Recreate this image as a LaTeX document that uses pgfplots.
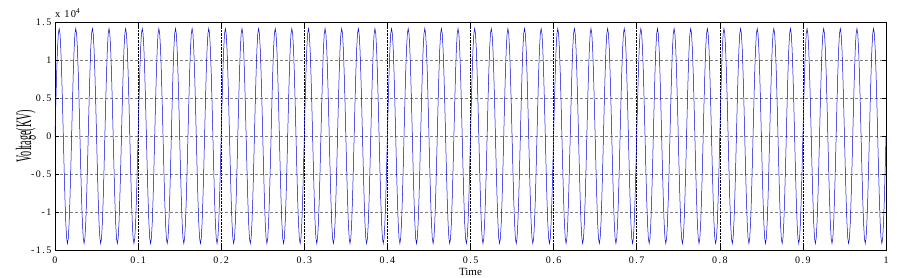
\documentclass[border=0pt]{standalone}
\usepackage{fontspec}
\setmainfont{Liberation Serif}
\usepackage{graphicx}
\usepackage{pgfplots}
\pgfplotsset{compat=1.18}
\begin{document}
\begin{tikzpicture}
\begin{axis}[
  scale only axis, width=831pt, height=228pt,
  xmin=0, xmax=1, ymin=-15000, ymax=15000,
  xtick={0,0.1,0.2,0.3,0.4,0.5,0.6,0.7,0.8,0.9,1},
  ytick={-15000,-10000,-5000,0,5000,10000,15000},
  scaled y ticks=base 10:-4,
  ytick scale label code/.code={x 10\textsuperscript{#1}},
  every y tick scale label/.style={at={(rel axis cs:0,1)}, anchor=south west, inner sep=0pt, yshift=4pt, font=\fontsize{10.5}{12}\selectfont\addfontfeature{LetterSpace=12}},
  /pgf/number format/assume math mode=true,
  ticklabel style={font=\fontsize{10}{12}\selectfont\addfontfeature{LetterSpace=15}},
  xticklabel style={yshift=-3pt},
  tick align=inside, major tick length=4pt,
  tick style={black, line width=0.5pt},
  axis line style={black, line width=0.6pt},
  xmajorgrids, ymajorgrids,
  x grid style={black, densely dotted, line width=0.6pt},
  y grid style={gray, dash pattern=on 3pt off 2pt, line width=0.5pt},
  xlabel={Time},
  xlabel style={at={(axis description cs:0.5,0)}, anchor=north, yshift=-18.5pt, inner sep=0pt, font=\fontsize{11}{12}\selectfont},
  ylabel={\scalebox{0.46}[1]{\fontsize{22}{22}\selectfont Voltage(KV)}},
  ylabel style={at={(axis description cs:-0.0229,0.5)}, anchor=south, inner sep=0pt},
]
\addplot[color=blue!85!black, line width=0.5pt, mark=none] coordinates {
(0.000,0)(0.001,4370)(0.002,8312)(0.003,11441)(0.004,13450)(0.005,14142)(0.006,13450)(0.007,11441)(0.008,8312)(0.009,4370)
(0.010,0)(0.011,-4370)(0.012,-8312)(0.013,-11441)(0.014,-13450)(0.015,-14142)(0.016,-13450)(0.017,-11441)(0.018,-8312)(0.019,-4370)
(0.020,0)(0.021,4370)(0.022,8312)(0.023,11441)(0.024,13450)(0.025,14142)(0.026,13450)(0.027,11441)(0.028,8312)(0.029,4370)
(0.030,0)(0.031,-4370)(0.032,-8312)(0.033,-11441)(0.034,-13450)(0.035,-14142)(0.036,-13450)(0.037,-11441)(0.038,-8312)(0.039,-4370)
(0.040,0)(0.041,4370)(0.042,8312)(0.043,11441)(0.044,13450)(0.045,14142)(0.046,13450)(0.047,11441)(0.048,8312)(0.049,4370)
(0.050,0)(0.051,-4370)(0.052,-8312)(0.053,-11441)(0.054,-13450)(0.055,-14142)(0.056,-13450)(0.057,-11441)(0.058,-8312)(0.059,-4370)
(0.060,0)(0.061,4370)(0.062,8312)(0.063,11441)(0.064,13450)(0.065,14142)(0.066,13450)(0.067,11441)(0.068,8312)(0.069,4370)
(0.070,0)(0.071,-4370)(0.072,-8312)(0.073,-11441)(0.074,-13450)(0.075,-14142)(0.076,-13450)(0.077,-11441)(0.078,-8312)(0.079,-4370)
(0.080,0)(0.081,4370)(0.082,8312)(0.083,11441)(0.084,13450)(0.085,14142)(0.086,13450)(0.087,11441)(0.088,8312)(0.089,4370)
(0.090,0)(0.091,-4370)(0.092,-8312)(0.093,-11441)(0.094,-13450)(0.095,-14142)(0.096,-13450)(0.097,-11441)(0.098,-8312)(0.099,-4370)
(0.100,0)(0.101,4370)(0.102,8312)(0.103,11441)(0.104,13450)(0.105,14142)(0.106,13450)(0.107,11441)(0.108,8312)(0.109,4370)
(0.110,0)(0.111,-4370)(0.112,-8312)(0.113,-11441)(0.114,-13450)(0.115,-14142)(0.116,-13450)(0.117,-11441)(0.118,-8312)(0.119,-4370)
(0.120,0)(0.121,4370)(0.122,8312)(0.123,11441)(0.124,13450)(0.125,14142)(0.126,13450)(0.127,11441)(0.128,8312)(0.129,4370)
(0.130,0)(0.131,-4370)(0.132,-8312)(0.133,-11441)(0.134,-13450)(0.135,-14142)(0.136,-13450)(0.137,-11441)(0.138,-8312)(0.139,-4370)
(0.140,0)(0.141,4370)(0.142,8312)(0.143,11441)(0.144,13450)(0.145,14142)(0.146,13450)(0.147,11441)(0.148,8312)(0.149,4370)
(0.150,0)(0.151,-4370)(0.152,-8312)(0.153,-11441)(0.154,-13450)(0.155,-14142)(0.156,-13450)(0.157,-11441)(0.158,-8312)(0.159,-4370)
(0.160,0)(0.161,4370)(0.162,8312)(0.163,11441)(0.164,13450)(0.165,14142)(0.166,13450)(0.167,11441)(0.168,8312)(0.169,4370)
(0.170,0)(0.171,-4370)(0.172,-8312)(0.173,-11441)(0.174,-13450)(0.175,-14142)(0.176,-13450)(0.177,-11441)(0.178,-8312)(0.179,-4370)
(0.180,0)(0.181,4370)(0.182,8312)(0.183,11441)(0.184,13450)(0.185,14142)(0.186,13450)(0.187,11441)(0.188,8312)(0.189,4370)
(0.190,0)(0.191,-4370)(0.192,-8312)(0.193,-11441)(0.194,-13450)(0.195,-14142)(0.196,-13450)(0.197,-11441)(0.198,-8312)(0.199,-4370)
(0.200,0)(0.201,4370)(0.202,8312)(0.203,11441)(0.204,13450)(0.205,14142)(0.206,13450)(0.207,11441)(0.208,8312)(0.209,4370)
(0.210,0)(0.211,-4370)(0.212,-8312)(0.213,-11441)(0.214,-13450)(0.215,-14142)(0.216,-13450)(0.217,-11441)(0.218,-8312)(0.219,-4370)
(0.220,0)(0.221,4370)(0.222,8312)(0.223,11441)(0.224,13450)(0.225,14142)(0.226,13450)(0.227,11441)(0.228,8312)(0.229,4370)
(0.230,0)(0.231,-4370)(0.232,-8312)(0.233,-11441)(0.234,-13450)(0.235,-14142)(0.236,-13450)(0.237,-11441)(0.238,-8312)(0.239,-4370)
(0.240,0)(0.241,4370)(0.242,8312)(0.243,11441)(0.244,13450)(0.245,14142)(0.246,13450)(0.247,11441)(0.248,8312)(0.249,4370)
(0.250,0)(0.251,-4370)(0.252,-8312)(0.253,-11441)(0.254,-13450)(0.255,-14142)(0.256,-13450)(0.257,-11441)(0.258,-8312)(0.259,-4370)
(0.260,0)(0.261,4370)(0.262,8312)(0.263,11441)(0.264,13450)(0.265,14142)(0.266,13450)(0.267,11441)(0.268,8312)(0.269,4370)
(0.270,0)(0.271,-4370)(0.272,-8312)(0.273,-11441)(0.274,-13450)(0.275,-14142)(0.276,-13450)(0.277,-11441)(0.278,-8312)(0.279,-4370)
(0.280,0)(0.281,4370)(0.282,8312)(0.283,11441)(0.284,13450)(0.285,14142)(0.286,13450)(0.287,11441)(0.288,8312)(0.289,4370)
(0.290,0)(0.291,-4370)(0.292,-8312)(0.293,-11441)(0.294,-13450)(0.295,-14142)(0.296,-13450)(0.297,-11441)(0.298,-8312)(0.299,-4370)
(0.300,0)(0.301,4370)(0.302,8312)(0.303,11441)(0.304,13450)(0.305,14142)(0.306,13450)(0.307,11441)(0.308,8312)(0.309,4370)
(0.310,0)(0.311,-4370)(0.312,-8312)(0.313,-11441)(0.314,-13450)(0.315,-14142)(0.316,-13450)(0.317,-11441)(0.318,-8312)(0.319,-4370)
(0.320,0)(0.321,4370)(0.322,8312)(0.323,11441)(0.324,13450)(0.325,14142)(0.326,13450)(0.327,11441)(0.328,8312)(0.329,4370)
(0.330,0)(0.331,-4370)(0.332,-8312)(0.333,-11441)(0.334,-13450)(0.335,-14142)(0.336,-13450)(0.337,-11441)(0.338,-8312)(0.339,-4370)
(0.340,0)(0.341,4370)(0.342,8312)(0.343,11441)(0.344,13450)(0.345,14142)(0.346,13450)(0.347,11441)(0.348,8312)(0.349,4370)
(0.350,0)(0.351,-4370)(0.352,-8312)(0.353,-11441)(0.354,-13450)(0.355,-14142)(0.356,-13450)(0.357,-11441)(0.358,-8312)(0.359,-4370)
(0.360,0)(0.361,4370)(0.362,8312)(0.363,11441)(0.364,13450)(0.365,14142)(0.366,13450)(0.367,11441)(0.368,8312)(0.369,4370)
(0.370,0)(0.371,-4370)(0.372,-8312)(0.373,-11441)(0.374,-13450)(0.375,-14142)(0.376,-13450)(0.377,-11441)(0.378,-8312)(0.379,-4370)
(0.380,0)(0.381,4370)(0.382,8312)(0.383,11441)(0.384,13450)(0.385,14142)(0.386,13450)(0.387,11441)(0.388,8312)(0.389,4370)
(0.390,0)(0.391,-4370)(0.392,-8312)(0.393,-11441)(0.394,-13450)(0.395,-14142)(0.396,-13450)(0.397,-11441)(0.398,-8312)(0.399,-4370)
(0.400,0)(0.401,4370)(0.402,8312)(0.403,11441)(0.404,13450)(0.405,14142)(0.406,13450)(0.407,11441)(0.408,8312)(0.409,4370)
(0.410,0)(0.411,-4370)(0.412,-8312)(0.413,-11441)(0.414,-13450)(0.415,-14142)(0.416,-13450)(0.417,-11441)(0.418,-8312)(0.419,-4370)
(0.420,0)(0.421,4370)(0.422,8312)(0.423,11441)(0.424,13450)(0.425,14142)(0.426,13450)(0.427,11441)(0.428,8312)(0.429,4370)
(0.430,0)(0.431,-4370)(0.432,-8312)(0.433,-11441)(0.434,-13450)(0.435,-14142)(0.436,-13450)(0.437,-11441)(0.438,-8312)(0.439,-4370)
(0.440,0)(0.441,4370)(0.442,8312)(0.443,11441)(0.444,13450)(0.445,14142)(0.446,13450)(0.447,11441)(0.448,8312)(0.449,4370)
(0.450,0)(0.451,-4370)(0.452,-8312)(0.453,-11441)(0.454,-13450)(0.455,-14142)(0.456,-13450)(0.457,-11441)(0.458,-8312)(0.459,-4370)
(0.460,0)(0.461,4370)(0.462,8312)(0.463,11441)(0.464,13450)(0.465,14142)(0.466,13450)(0.467,11441)(0.468,8312)(0.469,4370)
(0.470,0)(0.471,-4370)(0.472,-8312)(0.473,-11441)(0.474,-13450)(0.475,-14142)(0.476,-13450)(0.477,-11441)(0.478,-8312)(0.479,-4370)
(0.480,0)(0.481,4370)(0.482,8312)(0.483,11441)(0.484,13450)(0.485,14142)(0.486,13450)(0.487,11441)(0.488,8312)(0.489,4370)
(0.490,0)(0.491,-4370)(0.492,-8312)(0.493,-11441)(0.494,-13450)(0.495,-14142)(0.496,-13450)(0.497,-11441)(0.498,-8312)(0.499,-4370)
(0.500,0)(0.501,4370)(0.502,8312)(0.503,11441)(0.504,13450)(0.505,14142)(0.506,13450)(0.507,11441)(0.508,8312)(0.509,4370)
(0.510,0)(0.511,-4370)(0.512,-8312)(0.513,-11441)(0.514,-13450)(0.515,-14142)(0.516,-13450)(0.517,-11441)(0.518,-8312)(0.519,-4370)
(0.520,0)(0.521,4370)(0.522,8312)(0.523,11441)(0.524,13450)(0.525,14142)(0.526,13450)(0.527,11441)(0.528,8312)(0.529,4370)
(0.530,0)(0.531,-4370)(0.532,-8312)(0.533,-11441)(0.534,-13450)(0.535,-14142)(0.536,-13450)(0.537,-11441)(0.538,-8312)(0.539,-4370)
(0.540,0)(0.541,4370)(0.542,8312)(0.543,11441)(0.544,13450)(0.545,14142)(0.546,13450)(0.547,11441)(0.548,8312)(0.549,4370)
(0.550,0)(0.551,-4370)(0.552,-8312)(0.553,-11441)(0.554,-13450)(0.555,-14142)(0.556,-13450)(0.557,-11441)(0.558,-8312)(0.559,-4370)
(0.560,0)(0.561,4370)(0.562,8312)(0.563,11441)(0.564,13450)(0.565,14142)(0.566,13450)(0.567,11441)(0.568,8312)(0.569,4370)
(0.570,0)(0.571,-4370)(0.572,-8312)(0.573,-11441)(0.574,-13450)(0.575,-14142)(0.576,-13450)(0.577,-11441)(0.578,-8312)(0.579,-4370)
(0.580,0)(0.581,4370)(0.582,8312)(0.583,11441)(0.584,13450)(0.585,14142)(0.586,13450)(0.587,11441)(0.588,8312)(0.589,4370)
(0.590,0)(0.591,-4370)(0.592,-8312)(0.593,-11441)(0.594,-13450)(0.595,-14142)(0.596,-13450)(0.597,-11441)(0.598,-8312)(0.599,-4370)
(0.600,0)(0.601,4370)(0.602,8312)(0.603,11441)(0.604,13450)(0.605,14142)(0.606,13450)(0.607,11441)(0.608,8312)(0.609,4370)
(0.610,0)(0.611,-4370)(0.612,-8312)(0.613,-11441)(0.614,-13450)(0.615,-14142)(0.616,-13450)(0.617,-11441)(0.618,-8312)(0.619,-4370)
(0.620,0)(0.621,4370)(0.622,8312)(0.623,11441)(0.624,13450)(0.625,14142)(0.626,13450)(0.627,11441)(0.628,8312)(0.629,4370)
(0.630,0)(0.631,-4370)(0.632,-8312)(0.633,-11441)(0.634,-13450)(0.635,-14142)(0.636,-13450)(0.637,-11441)(0.638,-8312)(0.639,-4370)
(0.640,0)(0.641,4370)(0.642,8312)(0.643,11441)(0.644,13450)(0.645,14142)(0.646,13450)(0.647,11441)(0.648,8312)(0.649,4370)
(0.650,0)(0.651,-4370)(0.652,-8312)(0.653,-11441)(0.654,-13450)(0.655,-14142)(0.656,-13450)(0.657,-11441)(0.658,-8312)(0.659,-4370)
(0.660,0)(0.661,4370)(0.662,8312)(0.663,11441)(0.664,13450)(0.665,14142)(0.666,13450)(0.667,11441)(0.668,8312)(0.669,4370)
(0.670,0)(0.671,-4370)(0.672,-8312)(0.673,-11441)(0.674,-13450)(0.675,-14142)(0.676,-13450)(0.677,-11441)(0.678,-8312)(0.679,-4370)
(0.680,0)(0.681,4370)(0.682,8312)(0.683,11441)(0.684,13450)(0.685,14142)(0.686,13450)(0.687,11441)(0.688,8312)(0.689,4370)
(0.690,0)(0.691,-4370)(0.692,-8312)(0.693,-11441)(0.694,-13450)(0.695,-14142)(0.696,-13450)(0.697,-11441)(0.698,-8312)(0.699,-4370)
(0.700,0)(0.701,4370)(0.702,8312)(0.703,11441)(0.704,13450)(0.705,14142)(0.706,13450)(0.707,11441)(0.708,8312)(0.709,4370)
(0.710,0)(0.711,-4370)(0.712,-8312)(0.713,-11441)(0.714,-13450)(0.715,-14142)(0.716,-13450)(0.717,-11441)(0.718,-8312)(0.719,-4370)
(0.720,0)(0.721,4370)(0.722,8312)(0.723,11441)(0.724,13450)(0.725,14142)(0.726,13450)(0.727,11441)(0.728,8312)(0.729,4370)
(0.730,0)(0.731,-4370)(0.732,-8312)(0.733,-11441)(0.734,-13450)(0.735,-14142)(0.736,-13450)(0.737,-11441)(0.738,-8312)(0.739,-4370)
(0.740,0)(0.741,4370)(0.742,8312)(0.743,11441)(0.744,13450)(0.745,14142)(0.746,13450)(0.747,11441)(0.748,8312)(0.749,4370)
(0.750,0)(0.751,-4370)(0.752,-8312)(0.753,-11441)(0.754,-13450)(0.755,-14142)(0.756,-13450)(0.757,-11441)(0.758,-8312)(0.759,-4370)
(0.760,0)(0.761,4370)(0.762,8312)(0.763,11441)(0.764,13450)(0.765,14142)(0.766,13450)(0.767,11441)(0.768,8312)(0.769,4370)
(0.770,0)(0.771,-4370)(0.772,-8312)(0.773,-11441)(0.774,-13450)(0.775,-14142)(0.776,-13450)(0.777,-11441)(0.778,-8312)(0.779,-4370)
(0.780,0)(0.781,4370)(0.782,8312)(0.783,11441)(0.784,13450)(0.785,14142)(0.786,13450)(0.787,11441)(0.788,8312)(0.789,4370)
(0.790,0)(0.791,-4370)(0.792,-8312)(0.793,-11441)(0.794,-13450)(0.795,-14142)(0.796,-13450)(0.797,-11441)(0.798,-8312)(0.799,-4370)
(0.800,0)(0.801,4370)(0.802,8312)(0.803,11441)(0.804,13450)(0.805,14142)(0.806,13450)(0.807,11441)(0.808,8312)(0.809,4370)
(0.810,0)(0.811,-4370)(0.812,-8312)(0.813,-11441)(0.814,-13450)(0.815,-14142)(0.816,-13450)(0.817,-11441)(0.818,-8312)(0.819,-4370)
(0.820,0)(0.821,4370)(0.822,8312)(0.823,11441)(0.824,13450)(0.825,14142)(0.826,13450)(0.827,11441)(0.828,8312)(0.829,4370)
(0.830,0)(0.831,-4370)(0.832,-8312)(0.833,-11441)(0.834,-13450)(0.835,-14142)(0.836,-13450)(0.837,-11441)(0.838,-8312)(0.839,-4370)
(0.840,0)(0.841,4370)(0.842,8312)(0.843,11441)(0.844,13450)(0.845,14142)(0.846,13450)(0.847,11441)(0.848,8312)(0.849,4370)
(0.850,0)(0.851,-4370)(0.852,-8312)(0.853,-11441)(0.854,-13450)(0.855,-14142)(0.856,-13450)(0.857,-11441)(0.858,-8312)(0.859,-4370)
(0.860,0)(0.861,4370)(0.862,8312)(0.863,11441)(0.864,13450)(0.865,14142)(0.866,13450)(0.867,11441)(0.868,8312)(0.869,4370)
(0.870,0)(0.871,-4370)(0.872,-8312)(0.873,-11441)(0.874,-13450)(0.875,-14142)(0.876,-13450)(0.877,-11441)(0.878,-8312)(0.879,-4370)
(0.880,0)(0.881,4370)(0.882,8312)(0.883,11441)(0.884,13450)(0.885,14142)(0.886,13450)(0.887,11441)(0.888,8312)(0.889,4370)
(0.890,0)(0.891,-4370)(0.892,-8312)(0.893,-11441)(0.894,-13450)(0.895,-14142)(0.896,-13450)(0.897,-11441)(0.898,-8312)(0.899,-4370)
(0.900,0)(0.901,4370)(0.902,8312)(0.903,11441)(0.904,13450)(0.905,14142)(0.906,13450)(0.907,11441)(0.908,8312)(0.909,4370)
(0.910,0)(0.911,-4370)(0.912,-8312)(0.913,-11441)(0.914,-13450)(0.915,-14142)(0.916,-13450)(0.917,-11441)(0.918,-8312)(0.919,-4370)
(0.920,0)(0.921,4370)(0.922,8312)(0.923,11441)(0.924,13450)(0.925,14142)(0.926,13450)(0.927,11441)(0.928,8312)(0.929,4370)
(0.930,0)(0.931,-4370)(0.932,-8312)(0.933,-11441)(0.934,-13450)(0.935,-14142)(0.936,-13450)(0.937,-11441)(0.938,-8312)(0.939,-4370)
(0.940,0)(0.941,4370)(0.942,8312)(0.943,11441)(0.944,13450)(0.945,14142)(0.946,13450)(0.947,11441)(0.948,8312)(0.949,4370)
(0.950,0)(0.951,-4370)(0.952,-8312)(0.953,-11441)(0.954,-13450)(0.955,-14142)(0.956,-13450)(0.957,-11441)(0.958,-8312)(0.959,-4370)
(0.960,0)(0.961,4370)(0.962,8312)(0.963,11441)(0.964,13450)(0.965,14142)(0.966,13450)(0.967,11441)(0.968,8312)(0.969,4370)
(0.970,0)(0.971,-4370)(0.972,-8312)(0.973,-11441)(0.974,-13450)(0.975,-14142)(0.976,-13450)(0.977,-11441)(0.978,-8312)(0.979,-4370)
(0.980,0)(0.981,4370)(0.982,8312)(0.983,11441)(0.984,13450)(0.985,14142)(0.986,13450)(0.987,11441)(0.988,8312)(0.989,4370)
(0.990,0)(0.991,-4370)(0.992,-8312)(0.993,-11441)(0.994,-13450)(0.995,-14142)(0.996,-13450)(0.997,-11441)(0.998,-8312)(0.999,-4370)
(1.000,0)
};
\end{axis}
\pgfresetboundingbox
\path (current axis.south west) ++(-55pt,-28pt) coordinate (bl);
\path (current axis.north east) ++(15pt,22pt) coordinate (tr);
\path[use as bounding box] (bl) rectangle (tr);
\end{tikzpicture}
\end{document}
